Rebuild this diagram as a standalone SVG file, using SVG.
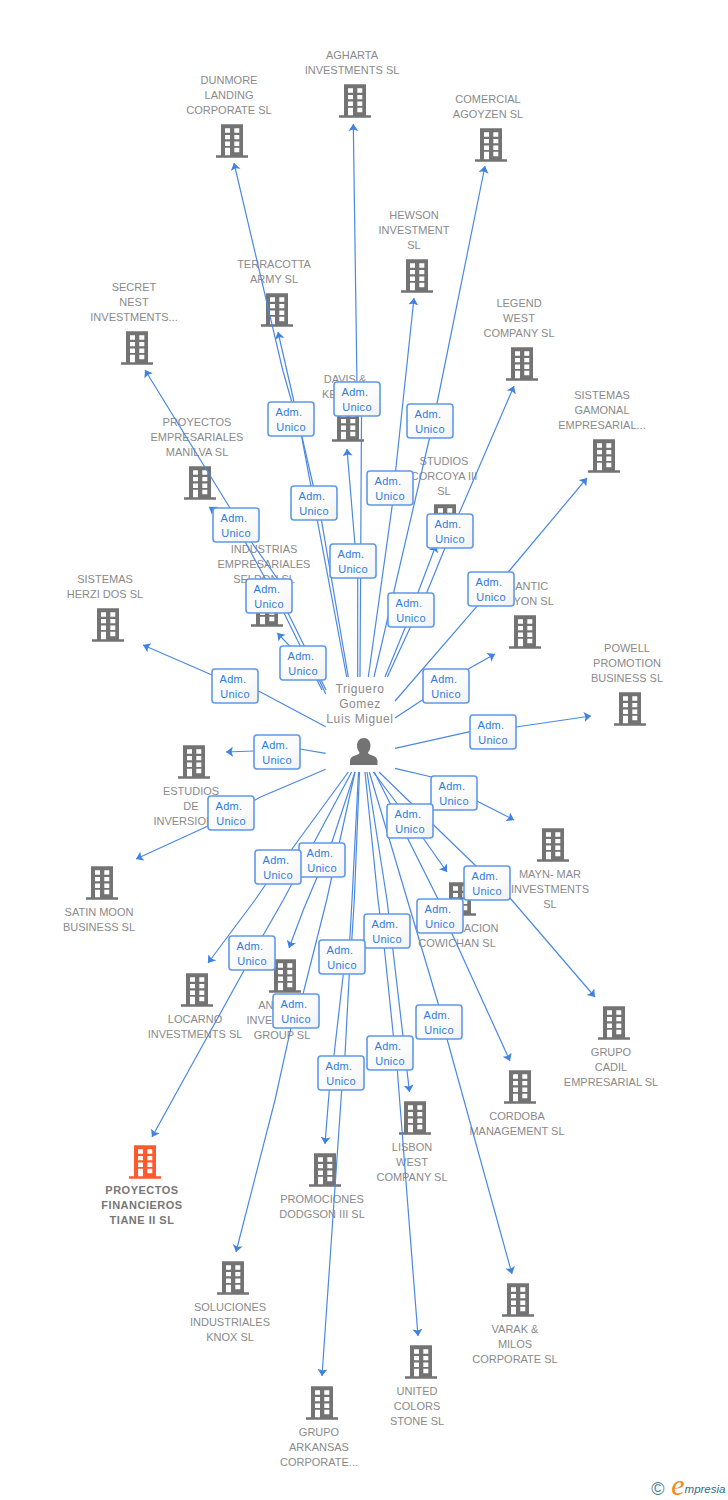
<svg xmlns="http://www.w3.org/2000/svg" width="728" height="1500" viewBox="0 0 728 1500">
<style>
text{font-family:"Liberation Sans",Arial,sans-serif;font-size:11px;fill:#8a8a8a;text-anchor:middle}
.b{fill:#737373}
.o{fill:#ff5a2c}
.sel{font-weight:bold;fill:#777;letter-spacing:.5px}
.p{font-size:12px;letter-spacing:.6px}
.c polyline{fill:none;stroke:#4a88e4;stroke-width:1.2;marker-end:url(#a)}
.l rect{fill:url(#g);stroke:#5f98ea;stroke-width:1.6}
.l text{fill:#2f7be0;letter-spacing:.3px}
</style>
<defs>
<linearGradient id="g" x1="0" y1="0" x2="1" y2="1"><stop offset="0" stop-color="#fff"/><stop offset=".6" stop-color="#fbfbfb"/><stop offset="1" stop-color="#f0f1f3"/></linearGradient>
<marker id="a" markerUnits="userSpaceOnUse" markerWidth="12" markerHeight="12" refX="7" refY="5" orient="auto"><path d="M0 0L7 5L0 10L1.500 5Z" fill="#3f82e2"/></marker>
<symbol id="bld" viewBox="0 0 32 34" width="32" height="34" overflow="visible">
<path fill-rule="evenodd" transform="translate(0 -.7)" d="M5 0H27V31H32V33.400H0V31H5ZM9 4V8.400H14V4ZM18.300 4V8.400H23.300V4ZM9 10.700V15H14V10.700ZM18.300 10.700V15H23.300V10.700ZM9 17.300V21.700H14V17.300ZM18.300 17.300V21.700H23.300V17.300ZM9 23.400V31H14V23.400ZM18.300 23.400V28H23.300V23.400Z"/>
</symbol>
</defs>
<rect width="728" height="1500" fill="#fff"/>
<g id="nodes">
<g id="n-dunmore"><use href="#bld" class="b" x="216" y="125"/><text x="229" y="84">DUNMORE</text><text x="229" y="99">LANDING</text><text x="229" y="114">CORPORATE SL</text></g>
<g id="n-agharta"><use href="#bld" class="b" x="339" y="85"/><text x="352" y="59">AGHARTA</text><text x="352" y="74">INVESTMENTS SL</text></g>
<g id="n-comercial"><use href="#bld" class="b" x="475" y="129"/><text x="488" y="103">COMERCIAL</text><text x="488" y="118">AGOYZEN SL</text></g>
<g id="n-hewson"><use href="#bld" class="b" x="401" y="260"/><text x="414" y="219">HEWSON</text><text x="414" y="234">INVESTMENT</text><text x="414" y="249">SL</text></g>
<g id="n-terracotta"><use href="#bld" class="b" x="261" y="294"/><text x="274" y="268">TERRACOTTA</text><text x="274" y="283">ARMY  SL</text></g>
<g id="n-secret"><use href="#bld" class="b" x="121" y="332"/><text x="134" y="291">SECRET</text><text x="134" y="306">NEST</text><text x="134" y="321">INVESTMENTS...</text></g>
<g id="n-legend"><use href="#bld" class="b" x="506" y="348"/><text x="519" y="307">LEGEND</text><text x="519" y="322">WEST</text><text x="519" y="337">COMPANY SL</text></g>
<g id="n-gamonal"><use href="#bld" class="b" x="588" y="440"/><text x="602" y="399">SISTEMAS</text><text x="602" y="414">GAMONAL</text><text x="602" y="429">EMPRESARIAL...</text></g>
<g id="n-davis"><use href="#bld" class="b" x="332" y="409"/><text x="345" y="383">DAVIS &amp;</text><text x="322" y="398" style="text-anchor:start">KE</text></g>
<g id="n-studios"><use href="#bld" class="b" x="429" y="505"/><text x="444" y="465">STUDIOS</text><text x="444" y="480">CORCOYA III</text><text x="444" y="495">SL</text></g>
<g id="n-manilva"><use href="#bld" class="b" x="184" y="467"/><text x="197" y="426">PROYECTOS</text><text x="197" y="441">EMPRESARIALES</text><text x="197" y="456">MANILVA SL</text></g>
<g id="n-industrias"><use href="#bld" class="b" x="251" y="594"/><text x="264" y="553">INDUSTRIAS</text><text x="264" y="568">EMPRESARIALES</text><text x="264" y="583">SELDON SL</text></g>
<g id="n-herzi"><use href="#bld" class="b" x="92" y="609"/><text x="105" y="583">SISTEMAS</text><text x="105" y="598">HERZI DOS SL</text></g>
<g id="n-atlantic"><use href="#bld" class="b" x="509" y="616"/><text x="522" y="590">ATLANTIC</text><text x="522" y="605">CANYON SL</text></g>
<g id="n-powell"><use href="#bld" class="b" x="614" y="693"/><text x="627" y="652">POWELL</text><text x="627" y="667">PROMOTION</text><text x="627" y="682">BUSINESS  SL</text></g>
<g id="n-person"><text class="p" x="360" y="693">Triguero</text><text class="p" x="360" y="708">Gomez</text><text class="p" x="360" y="723">Luis Miguel</text><path class="b" d="M364 738c4 0 6.500 3.500 6.500 7.500 0 3-1 5-2.500 7 0 1 1 2 3 2.500 4 1 6.500 3 6.500 6V765H350v-4c0-3 2.500-5 6.500-6 2-.5 3-1.500 3-2.500-1.500-2-2.500-4-2.500-7 0-4 2.500-7.500 7-7.500Z"/></g>
<g id="n-estudios"><use href="#bld" class="b" x="178" y="746"/><text x="191" y="795">ESTUDIOS</text><text x="191" y="810">DE</text><text x="191" y="825">INVERSIONES</text></g>
<g id="n-satin"><use href="#bld" class="b" x="86" y="867"/><text x="99" y="916">SATIN MOON</text><text x="99" y="931">BUSINESS SL</text></g>
<g id="n-mayn"><use href="#bld" class="b" x="537" y="829"/><text x="550" y="878">MAYN- MAR</text><text x="550" y="893">INVESTMENTS</text><text x="550" y="908">SL</text></g>
<g id="n-cowichan"><use href="#bld" class="b" x="444" y="883"/><text x="457" y="932">CORPORACION</text><text x="457" y="947">COWICHAN SL</text></g>
<g id="n-cadil"><use href="#bld" class="b" x="598" y="1007"/><text x="611" y="1056">GRUPO</text><text x="611" y="1071">CADIL</text><text x="611" y="1086">EMPRESARIAL SL</text></g>
<g id="n-locarno"><use href="#bld" class="b" x="181" y="974"/><text x="195" y="1023">LOCARNO</text><text x="195" y="1038">INVESTMENTS SL</text></g>
<g id="n-anchor"><use href="#bld" class="b" x="269" y="960"/><text x="282" y="1009">ANCHOR</text><text x="282" y="1024">INVESTMENT</text><text x="282" y="1039">GROUP SL</text></g>
<g id="n-cordoba"><use href="#bld" class="b" x="504" y="1071"/><text x="517" y="1120">CORDOBA</text><text x="517" y="1135">MANAGEMENT SL</text></g>
<g id="n-lisbon"><use href="#bld" class="b" x="399" y="1102"/><text x="412" y="1151">LISBON</text><text x="412" y="1166">WEST</text><text x="412" y="1181">COMPANY  SL</text></g>
<g id="n-promociones"><use href="#bld" class="b" x="309" y="1154"/><text x="322" y="1203">PROMOCIONES</text><text x="322" y="1218">DODGSON III SL</text></g>
<g id="n-tiane"><use href="#bld" class="o" x="129" y="1146"/><text class="sel" x="142" y="1194">PROYECTOS</text><text class="sel" x="142" y="1209">FINANCIEROS</text><text class="sel" x="142" y="1224">TIANE II  SL</text></g>
<g id="n-soluciones"><use href="#bld" class="b" x="217" y="1262"/><text x="230" y="1311">SOLUCIONES</text><text x="230" y="1326">INDUSTRIALES</text><text x="230" y="1341">KNOX SL</text></g>
<g id="n-varak"><use href="#bld" class="b" x="502" y="1284"/><text x="515" y="1333">VARAK &amp;</text><text x="515" y="1348">MILOS</text><text x="515" y="1363">CORPORATE SL</text></g>
<g id="n-united"><use href="#bld" class="b" x="405" y="1346"/><text x="417" y="1395">UNITED</text><text x="417" y="1410">COLORS</text><text x="417" y="1425">STONE SL</text></g>
<g id="n-arkansas"><use href="#bld" class="b" x="306" y="1387"/><text x="319" y="1436">GRUPO</text><text x="319" y="1451">ARKANSAS</text><text x="319" y="1466">CORPORATE...</text></g>
</g>
<g id="connectors" class="c">
<polyline points="346.700,677 301.700,437 282.700,370 234,163"/>
<polyline points="348.300,677 321.700,521.700 313.300,486 278,332"/>
<polyline points="360,677 361.500,417 357,385 353.300,124"/>
<polyline points="357.700,677 357.700,578 355,545 347,449"/>
<polyline points="368.300,677 392.300,505 395.700,470 414,298"/>
<polyline points="374,677 429.300,439 436.700,405 485,166"/>
<polyline points="387.300,677 410,628 426.700,592.700 445,548 459.300,513 514,386"/>
<polyline points="385,677 405,628 418.300,591.700 436,545"/>
<polyline points="395,701 476.700,606.700 510,570 587,478"/>
<polyline points="395,718 422.300,700 470,668 495,654"/>
<polyline points="395,748.300 470,731.700 516,727 591,716"/>
<polyline points="395,768.300 431.700,777 478.300,801.700 514,820"/>
<polyline points="373.300,772 423,838 447,872"/>
<polyline points="379,772 476.700,866.700 510,898 595,997"/>
<polyline points="374.300,772 437,897 451.700,933 510,1061"/>
<polyline points="367,772 387,900 392.700,948 409.500,1092"/>
<polyline points="369.300,772 438,1003 447.300,1040 512,1274"/>
<polyline points="365,772 378,900 384.300,948 393.300,1035 397.300,1070 418,1336"/>
<polyline points="358.500,772 352,900 349.800,940 343.300,974 334,1055 329.300,1090 325,1144"/>
<polyline points="359.500,772 354.300,900 351.800,940 349.300,974 345,1055 341.700,1090 322,1376"/>
<polyline points="355,772 326.700,900 303.300,993 291,1027.700 275,1100 236,1252"/>
<polyline points="355,772 331.700,842.700 317.300,876.700 303.300,910 289,948"/>
<polyline points="351.700,772 283.300,900 263.300,935 244.300,970 200,1050 152,1137"/>
<polyline points="348.300,772 292.700,848 266.700,883 255,900 208,963"/>
<polyline points="325.700,769.300 260,797.300 208,826 136,859"/>
<polyline points="325.700,753.300 300,749 254,751 226,752"/>
<polyline points="325.700,726.700 260,691.700 212,675 143,645"/>
<polyline points="325.700,694 320,681.700 289.300,645.700 277.300,633"/>
<polyline points="322,690 284,613 236,525 209,507"/>
<polyline points="326,690 288,613 277,578 252,543 230,508 145,370"/>
</g>
<g id="labels" class="l">
<g transform="translate(291 419)"><rect x="-23" y="-17" width="46" height="34" rx="3"/><text x="-2" y="-3">Adm.</text><text y="12">Unico</text></g>
<g transform="translate(357 399)"><rect x="-23" y="-17" width="46" height="34" rx="3"/><text x="-2" y="-3">Adm.</text><text y="12">Unico</text></g>
<g transform="translate(430 421)"><rect x="-23" y="-17" width="46" height="34" rx="3"/><text x="-2" y="-3">Adm.</text><text y="12">Unico</text></g>
<g transform="translate(390 488)"><rect x="-23" y="-17" width="46" height="34" rx="3"/><text x="-2" y="-3">Adm.</text><text y="12">Unico</text></g>
<g transform="translate(314 503)"><rect x="-23" y="-17" width="46" height="34" rx="3"/><text x="-2" y="-3">Adm.</text><text y="12">Unico</text></g>
<g transform="translate(353 561)"><rect x="-23" y="-17" width="46" height="34" rx="3"/><text x="-2" y="-3">Adm.</text><text y="12">Unico</text></g>
<g transform="translate(450 531)"><rect x="-23" y="-17" width="46" height="34" rx="3"/><text x="-2" y="-3">Adm.</text><text y="12">Unico</text></g>
<g transform="translate(236 525)"><rect x="-23" y="-17" width="46" height="34" rx="3"/><text x="-2" y="-3">Adm.</text><text y="12">Unico</text></g>
<g transform="translate(411 610)"><rect x="-23" y="-17" width="46" height="34" rx="3"/><text x="-2" y="-3">Adm.</text><text y="12">Unico</text></g>
<g transform="translate(269 596)"><rect x="-23" y="-17" width="46" height="34" rx="3"/><text x="-2" y="-3">Adm.</text><text y="12">Unico</text></g>
<g transform="translate(491 589)"><rect x="-23" y="-17" width="46" height="34" rx="3"/><text x="-2" y="-3">Adm.</text><text y="12">Unico</text></g>
<g transform="translate(303 663)"><rect x="-23" y="-17" width="46" height="34" rx="3"/><text x="-2" y="-3">Adm.</text><text y="12">Unico</text></g>
<g transform="translate(446 686)"><rect x="-23" y="-17" width="46" height="34" rx="3"/><text x="-2" y="-3">Adm.</text><text y="12">Unico</text></g>
<g transform="translate(235 686)"><rect x="-23" y="-17" width="46" height="34" rx="3"/><text x="-2" y="-3">Adm.</text><text y="12">Unico</text></g>
<g transform="translate(493 732)"><rect x="-23" y="-17" width="46" height="34" rx="3"/><text x="-2" y="-3">Adm.</text><text y="12">Unico</text></g>
<g transform="translate(277 752)"><rect x="-23" y="-17" width="46" height="34" rx="3"/><text x="-2" y="-3">Adm.</text><text y="12">Unico</text></g>
<g transform="translate(454 793)"><rect x="-23" y="-17" width="46" height="34" rx="3"/><text x="-2" y="-3">Adm.</text><text y="12">Unico</text></g>
<g transform="translate(410 821)"><rect x="-23" y="-17" width="46" height="34" rx="3"/><text x="-2" y="-3">Adm.</text><text y="12">Unico</text></g>
<g transform="translate(231 813)"><rect x="-23" y="-17" width="46" height="34" rx="3"/><text x="-2" y="-3">Adm.</text><text y="12">Unico</text></g>
<g transform="translate(322 860)"><rect x="-23" y="-17" width="46" height="34" rx="3"/><text x="-2" y="-3">Adm.</text><text y="12">Unico</text></g>
<g transform="translate(278 867)"><rect x="-23" y="-17" width="46" height="34" rx="3"/><text x="-2" y="-3">Adm.</text><text y="12">Unico</text></g>
<g transform="translate(487 883)"><rect x="-23" y="-17" width="46" height="34" rx="3"/><text x="-2" y="-3">Adm.</text><text y="12">Unico</text></g>
<g transform="translate(440 916)"><rect x="-23" y="-17" width="46" height="34" rx="3"/><text x="-2" y="-3">Adm.</text><text y="12">Unico</text></g>
<g transform="translate(387 931)"><rect x="-23" y="-17" width="46" height="34" rx="3"/><text x="-2" y="-3">Adm.</text><text y="12">Unico</text></g>
<g transform="translate(252 953)"><rect x="-23" y="-17" width="46" height="34" rx="3"/><text x="-2" y="-3">Adm.</text><text y="12">Unico</text></g>
<g transform="translate(342 957)"><rect x="-23" y="-17" width="46" height="34" rx="3"/><text x="-2" y="-3">Adm.</text><text y="12">Unico</text></g>
<g transform="translate(296 1011)"><rect x="-23" y="-17" width="46" height="34" rx="3"/><text x="-2" y="-3">Adm.</text><text y="12">Unico</text></g>
<g transform="translate(439 1022)"><rect x="-23" y="-17" width="46" height="34" rx="3"/><text x="-2" y="-3">Adm.</text><text y="12">Unico</text></g>
<g transform="translate(390 1053)"><rect x="-23" y="-17" width="46" height="34" rx="3"/><text x="-2" y="-3">Adm.</text><text y="12">Unico</text></g>
<g transform="translate(341 1073)"><rect x="-23" y="-17" width="46" height="34" rx="3"/><text x="-2" y="-3">Adm.</text><text y="12">Unico</text></g>
</g>
<g id="logo"><text x="658" y="1495" style="font-size:18px;fill:#4a7f98">©</text><text x="678" y="1495" style="font-size:30px;font-style:italic;fill:#f08a24;font-family:'Liberation Serif',serif">e</text><text x="705" y="1493" style="font-size:11.500px;font-style:italic;fill:#2f6f86">mpresia</text></g>
</svg>
